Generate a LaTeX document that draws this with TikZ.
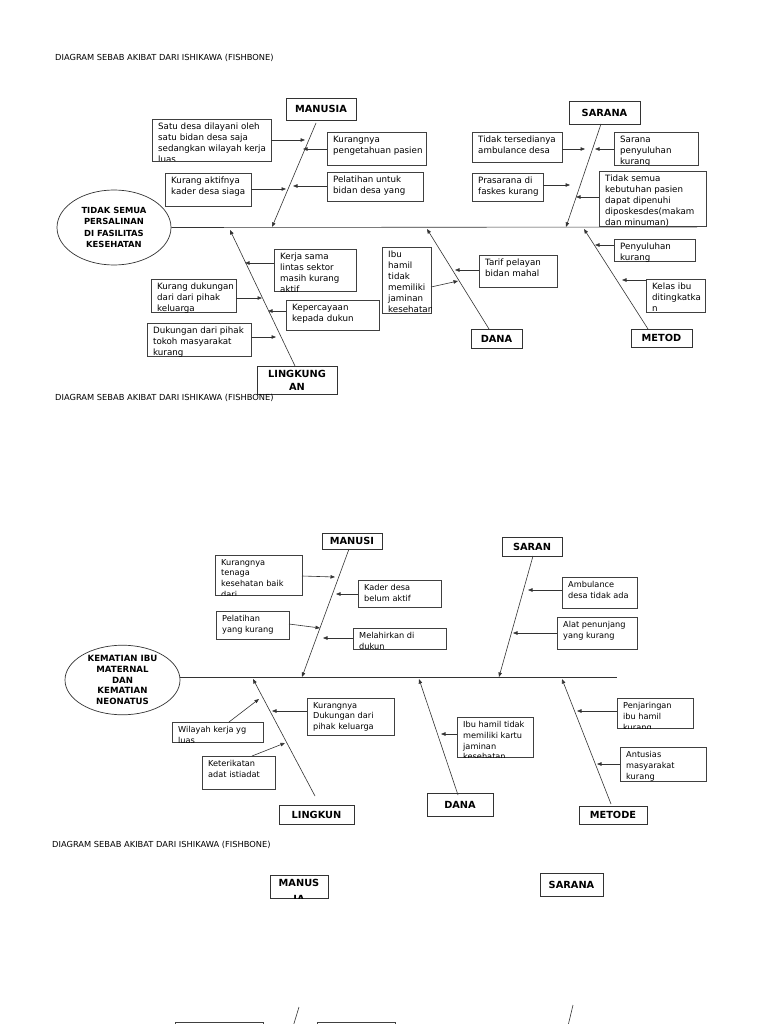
\documentclass[tikz,border=0pt]{standalone}
\usepackage{fontspec}
\setmainfont{DejaVu Sans}
\usetikzlibrary{arrows.meta,shapes.geometric}
\tikzset{
  ln/.style={draw=black!80, line width=0.6pt},
  arr/.style={ln, -{Triangle[length=4.5pt,width=3.5pt]}},
  bx/.style={draw=black!75, line width=0.7pt, inner sep=0pt, outer sep=0pt},
  bta/.style={inner sep=0pt, align=left, font=\fontsize{8.7}{11}\selectfont},
  btb/.style={inner sep=0pt, align=left, font=\fontsize{8.2}{10.8}\selectfont},
  hd/.style={draw=black!80, line width=0.7pt, inner sep=0pt, outer sep=0pt, align=center,
     font=\fontsize{9.8}{13}\selectfont\bfseries},
  hdt/.style={inner sep=0pt, align=center, font=\fontsize{9.8}{13}\selectfont\bfseries},
  ell/.style={ellipse, draw=black!80, line width=0.7pt, inner sep=0pt, align=center},
  ttl/.style={anchor=west, inner sep=0pt, font=\fontsize{8.3}{9}\selectfont}
}
% cause box: name, x1, y1, x2, y2, text style, text
\newcommand\cbx[7]{%
  \node[bx, minimum width={(#4)-(#2)}, minimum height={(#5)-(#3)}] (#1) at ({((#2)+(#4))/2},{((#3)+(#5))/2}) {};
  \begin{scope}
    \clip (#1.south west) rectangle (#1.north east);
    \node[#6, anchor=north west] (#1t) at ([xshift=6pt,yshift=-4pt]#1.north west) {#7};
  \end{scope}}
% header box
\newcommand\hbx[6]{%
  \node[hd, minimum width={(#4)-(#2)}, minimum height={(#5)-(#3)}] (#1) at ({((#2)+(#4))/2},{((#3)+(#5))/2}) {#6};}
\begin{document}
\begin{tikzpicture}[x=1pt,y=-1pt]
\useasboundingbox (0,0) rectangle (768,1024);
\fill[white] (0,0) rectangle (768,1024);

% ================= SECTION 1 =================
\node[ttl] (t1) at (55,58) {DIAGRAM SEBAB AKIBAT DARI ISHIKAWA (FISHBONE)};
\node[ell, minimum width=114, minimum height=75, font=\fontsize{8.4}{11.5}\selectfont\bfseries] (e1) at (114,227.5)
  {TIDAK SEMUA\\PERSALINAN\\DI FASILITAS\\KESEHATAN};
\coordinate (s1e) at (697,227);
\draw[ln] (e1.east) -- (s1e);

\hbx{h1M}{286}{98}{356}{120}{MANUSIA}
\hbx{h1S}{569}{101}{640}{124}{SARANA}
\hbx{h1D}{471}{329}{522}{348}{DANA}
\hbx{h1T}{631}{329}{692}{347}{METOD}
\hbx{h1L}{257}{366}{337}{394}{LINGKUNG\\AN}

\coordinate (m1a) at (316,123); \coordinate (m1b) at (272,227);
\coordinate (m2a) at (601,124); \coordinate (m2b) at (566,227);
\coordinate (m3a) at (489,329); \coordinate (m3b) at (427,229);
\coordinate (m4a) at (648,329); \coordinate (m4b) at (584,229);
\coordinate (m5a) at (295,366); \coordinate (m5b) at (230,230);
\draw[arr] (m1a) -- (m1b);
\draw[arr] (m2a) -- (m2b);
\draw[arr] (m3a) -- (m3b);
\draw[arr] (m4a) -- (m4b);
\draw[arr] (m5a) -- (m5b);

\cbx{a1}{152}{119}{271}{161}{bta}{Satu desa dilayani oleh\\satu bidan desa saja\\sedangkan wilayah kerja\\luas}
\cbx{a2}{165}{173}{251}{206}{bta}{Kurang aktifnya\\kader desa siaga}
\cbx{a3}{327}{132}{426}{165}{bta}{Kurangnya\\pengetahuan pasien}
\cbx{a4}{327}{172}{423}{201}{bta}{Pelatihan untuk\\bidan desa yang}
\cbx{a5}{472}{132}{562}{162}{bta}{Tidak tersedianya\\ambulance desa}
\cbx{a6}{614}{132}{698}{165}{bta}{Sarana\\penyuluhan\\kurang}
\cbx{a7}{472}{173}{543}{201}{bta}{Prasarana di\\faskes kurang}
\cbx{a8}{599}{171}{706}{226}{bta}{Tidak semua\\kebutuhan pasien\\dapat dipenuhi\\diposkesdes(makam\\dan minuman)}
\cbx{a9}{614}{239}{695}{261}{bta}{Penyuluhan\\kurang}
\cbx{a10}{646}{279}{705}{312}{bta}{Kelas ibu\\ditingkatka\\n}
\cbx{a11}{382}{247}{431}{313}{bta}{Ibu\\hamil\\tidak\\memiliki\\jaminan\\kesehatan}
\cbx{a12}{479}{255}{557}{287}{bta}{Tarif pelayan\\bidan mahal}
\cbx{a13}{274}{249}{356}{291}{bta}{Kerja sama\\lintas sektor\\masih kurang\\aktif}
\cbx{a14}{151}{279}{236}{312}{bta}{Kurang dukungan\\dari dari pihak\\keluarga}
\cbx{a15}{286}{300}{379}{330}{bta}{Kepercayaan\\kepada dukun}
\cbx{a16}{147}{323}{251}{356}{bta}{Dukungan dari pihak\\tokoh masyarakat\\kurang}

\coordinate (p1) at (305,140);  \draw[arr] (a1.east |- p1) -- (p1);
\coordinate (p2) at (286,189);  \draw[arr] (a2.east |- p2) -- (p2);
\coordinate (p3) at (303,149);  \draw[arr] (a3.west |- p3) -- (p3);
\coordinate (p4) at (293,186);  \draw[arr] (a4.west |- p4) -- (p4);
\coordinate (p5) at (585,149);  \draw[arr] (a5.east |- p5) -- (p5);
\coordinate (p6) at (595,149);  \draw[arr] (a6.west |- p6) -- (p6);
\coordinate (p7) at (570,185);  \draw[arr] (a7.east |- p7) -- (p7);
\coordinate (p8) at (576,197);  \draw[arr] (a8.west |- p8) -- (p8);
\coordinate (p9) at (595,245);  \draw[arr] (a9.west |- p9) -- (p9);
\coordinate (p10) at (622,280); \draw[arr] (a10.west |- p10) -- (p10);
\coordinate (p11) at (458,281); \coordinate (p11s) at (431,287); \draw[arr] (a11.east |- p11s) -- (p11);
\coordinate (p12) at (455,270); \draw[arr] (a12.west |- p12) -- (p12);
\coordinate (p13) at (245,263); \draw[arr] (a13.west |- p13) -- (p13);
\coordinate (p14) at (262,298); \draw[arr] (a14.east |- p14) -- (p14);
\coordinate (p15) at (268,311); \draw[arr] (a15.west |- p15) -- (p15);
\coordinate (p16) at (276,337); \draw[arr] (a16.east |- p16) -- (p16);

% ================= SECTION 2 =================
\node[ttl] (t2) at (55,398) {DIAGRAM SEBAB AKIBAT DARI ISHIKAWA (FISHBONE)};
\node[ell, minimum width=115, minimum height=66, font=\fontsize{8.6}{10.7}\selectfont\bfseries] (e2) at (122.5,680)
  {KEMATIAN IBU\\MATERNAL\\DAN\\KEMATIAN\\NEONATUS};
\coordinate (s2e) at (617,677);
\draw[ln] (e2.east |- s2e) -- (s2e);

\hbx{h2M}{322}{533}{382}{549}{MANUSI}
\hbx{h2S}{502}{537}{562}{556}{SARAN}
\hbx{h2L}{279}{805}{354}{824}{LINGKUN}
\hbx{h2D}{427}{793}{493}{816}{DANA}
\hbx{h2T}{579}{806}{647}{824}{METODE}

\coordinate (n1a) at (349,549); \coordinate (n1b) at (302,677);
\coordinate (n2a) at (533,556); \coordinate (n2b) at (499,677);
\coordinate (n3a) at (315,796); \coordinate (n3b) at (253,679);
\coordinate (n4a) at (458,795); \coordinate (n4b) at (419,679);
\coordinate (n5a) at (611,804); \coordinate (n5b) at (562,679);
\draw[arr] (n1a) -- (n1b);
\draw[arr] (n2a) -- (n2b);
\draw[arr] (n3a) -- (n3b);
\draw[arr] (n4a) -- (n4b);
\draw[arr] (n5a) -- (n5b);

\cbx{c1}{215}{555}{302}{595}{btb}{Kurangnya\\tenaga\\kesehatan baik\\dari}
\cbx{c2}{358}{580}{441}{607}{btb}{Kader desa\\belum aktif}
\cbx{c3}{216}{611}{289}{639}{btb}{Pelatihan\\yang kurang}
\cbx{c4}{353}{628}{446}{649}{btb}{Melahirkan di\\dukun}
\cbx{c5}{562}{577}{637}{608}{btb}{Ambulance\\desa tidak ada}
\cbx{c6}{557}{617}{637}{649}{btb}{Alat penunjang\\yang kurang}
\cbx{c7}{307}{698}{394}{735}{btb}{Kurangnya\\Dukungan dari\\pihak keluarga}
\cbx{c8}{172}{722}{263}{742}{btb}{Wilayah kerja yg\\luas}
\cbx{c9}{202}{756}{275}{789}{btb}{Keterikatan\\adat istiadat}
\cbx{c10}{457}{717}{533}{757}{btb}{Ibu hamil tidak\\memiliki kartu\\jaminan\\kesehatan}
\cbx{c11}{617}{698}{693}{728}{btb}{Penjaringan\\ibu hamil\\kurang}
\cbx{c12}{620}{747}{706}{781}{btb}{Antusias\\masyarakat\\kurang}

\coordinate (q1) at (335,577); \coordinate (q1s) at (302,576); \draw[arr] (c1.east |- q1s) -- (q1);
\coordinate (q2) at (336,594); \draw[arr] (c2.west |- q2) -- (q2);
\coordinate (q3) at (320,628); \coordinate (q3s) at (289,624); \draw[arr] (c3.east |- q3s) -- (q3);
\coordinate (q4) at (323,638); \draw[arr] (c4.west |- q4) -- (q4);
\coordinate (q5) at (528,590); \draw[arr] (c5.west |- q5) -- (q5);
\coordinate (q6) at (513,633); \draw[arr] (c6.west |- q6) -- (q6);
\coordinate (q7) at (272,711); \draw[arr] (c7.west |- q7) -- (q7);
\coordinate (q8) at (259,699); \coordinate (q8s) at (229,722); \draw[arr] (c8.north -| q8s) -- (q8);
\coordinate (q9) at (285,743); \coordinate (q9s) at (252,756); \draw[arr] (c9.north -| q9s) -- (q9);
\coordinate (q10) at (441,734); \draw[arr] (c10.west |- q10) -- (q10);
\coordinate (q11) at (577,711); \draw[arr] (c11.west |- q11) -- (q11);
\coordinate (q12) at (597,764); \draw[arr] (c12.west |- q12) -- (q12);

% ================= SECTION 3 =================
\node[ttl] (t3) at (52,845) {DIAGRAM SEBAB AKIBAT DARI ISHIKAWA (FISHBONE)};
\node[hd, minimum width=58, minimum height=23] (h3M) at (299,886.5) {};
\begin{scope}
  \clip (h3M.south west) rectangle (h3M.north east);
  \node[hdt, anchor=north] (h3Mt) at ([yshift=-4pt]h3M.north) {MANUS\\[3pt]IA};
\end{scope}
\hbx{h3S}{540}{873}{603}{896}{SARANA}
\node[bx, minimum width=88, minimum height=20] (d1) at (219,1032) {};
\node[bx, minimum width=78, minimum height=20] (d2) at (356,1032) {};
\coordinate (r1a) at (299,1007); \coordinate (r1b) at (292,1030);
\coordinate (r2a) at (573,1005); \coordinate (r2b) at (567,1030);
\draw[ln] (r1a) -- (r1b);
\draw[ln] (r2a) -- (r2b);
\end{tikzpicture}
\end{document}
